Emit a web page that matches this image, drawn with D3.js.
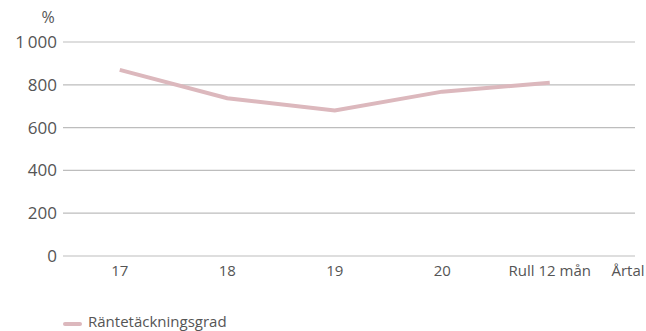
<!DOCTYPE html>
<html>
<head>
<meta charset="utf-8">
<script src="https://cdn.jsdelivr.net/npm/d3@7"></script>
<style>
  body { margin: 0; background: #fff; }
  text { font-family: "Open Sans", "Inter", sans-serif; fill: #555; font-weight: 400; }
</style>
</head>
<body>
<svg id="chart" width="646" height="331"></svg>
<script>
// data
var categories = ["17", "18", "19", "20", "Rull 12 mån"];
var values = [870, 737, 680, 768, 810];
var yTicks = [0, 200, 400, 600, 800, 1000];
var seriesName = "Räntetäckningsgrad";

var svg = d3.select("#chart");
var lineColor = "#dcb8bd";

var plotLeft = 63, plotRight = 635, plotTop = 42, plotBottom = 256;

var x = d3.scaleBand().domain(categories).range([66, 603.5]);
var y = d3.scaleLinear().domain([0, 1000]).range([plotBottom, plotTop]);

// gridlines
svg.append("g").selectAll("line")
  .data(yTicks)
  .enter().append("line")
  .attr("x1", plotLeft).attr("x2", plotRight)
  .attr("y1", d => y(d)).attr("y2", d => y(d))
  .attr("stroke", "#bdbdbd").attr("stroke-width", 1.2);

// y labels
svg.append("g").selectAll("text")
  .data(yTicks)
  .enter().append("text")
  .attr("x", 57).attr("y", d => y(d) + 6)
  .attr("text-anchor", "end")
  .attr("font-size", 17)
  .text(d => d == 1000 ? "1\u2009000" : d);

svg.append("text").attr("x", 48).attr("y", 23)
  .attr("text-anchor", "middle").attr("font-size", 16).text("%");

// x labels
svg.append("g").selectAll("text")
  .data(categories)
  .enter().append("text")
  .attr("x", d => x(d) + x.bandwidth() / 2)
  .attr("y", 276)
  .attr("text-anchor", "middle")
  .attr("font-size", 15)
  .text(d => d);

svg.append("text").attr("x", 628).attr("y", 276)
  .attr("text-anchor", "middle").attr("font-size", 15).text("Årtal");

// line
var line = d3.line()
  .x((d, i) => x(categories[i]) + x.bandwidth() / 2)
  .y(d => y(d));

svg.append("path")
  .datum(values)
  .attr("d", line)
  .attr("fill", "none")
  .attr("stroke", lineColor)
  .attr("stroke-width", 4);

// legend
svg.append("line")
  .attr("x1", 65).attr("x2", 80).attr("y1", 324).attr("y2", 324)
  .attr("stroke", lineColor).attr("stroke-width", 4).attr("stroke-linecap", "round");
svg.append("text").attr("x", 88).attr("y", 327)
  .attr("font-size", 15).text(seriesName);
</script>
</body>
</html>
